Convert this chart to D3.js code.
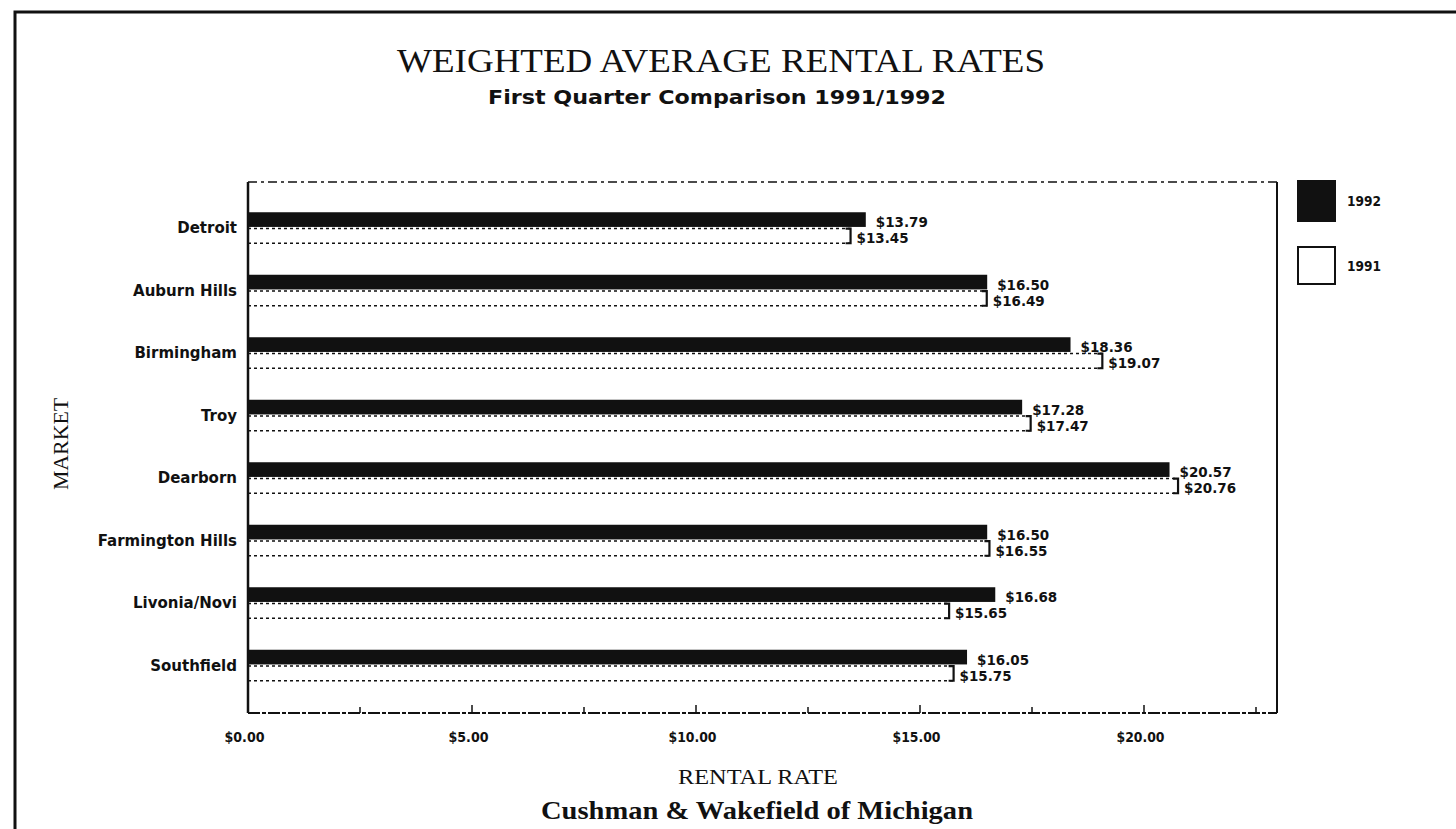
<!DOCTYPE html>
<html>
<head>
<meta charset="utf-8">
<script src="https://cdn.jsdelivr.net/npm/d3@7"></script>
<style>
  html, body { margin: 0; padding: 0; background: #fff; }
  svg { display: block; }
</style>
</head>
<body>
<svg id="chart" width="1456" height="829"></svg>
<script>
// Office markets and weighted average rental rates ($ per sq ft)
const markets = ["Detroit", "Auburn Hills", "Birmingham", "Troy", "Dearborn",
                 "Farmington Hills", "Livonia/Novi", "Southfield"];
const rates1992 = [13.79, 16.50, 18.36, 17.28, 20.57, 16.50, 16.68, 16.05];
const rates1991 = [13.45, 16.49, 19.07, 17.47, 20.76, 16.55, 15.65, 15.75];
const seriesNames = ["1992", "1991"];
const xTicks = [0, 5, 10, 15, 20];
const xMinorTicks = [2.5, 7.5, 12.5, 17.5, 22.5];

const svg = d3.select("#chart");
const ink = "#111";
const sansBold = "'DejaVu Sans', 'Liberation Sans', sans-serif";
const serif = "'Liberation Serif', 'DejaVu Serif', serif";

// page border
svg.append("path")
  .attr("d", "M15,829 L15,12 L1456,12")
  .attr("fill", "none").attr("stroke", ink).attr("stroke-width", 3);

// plotting frame
const frame = { left: 248, right: 1277, top: 182, bottom: 713 };

const x = d3.scaleLinear().domain([0, 23]).range([frame.left, frame.left + 23 * 44.8]);
const y = d3.scaleBand().domain(markets).range([197, 697]);
const ySub = d3.scaleBand().domain(seriesNames).range([-16, 15]).paddingInner(0.1);

// frame sides
svg.append("line")
  .attr("x1", frame.left).attr("x2", frame.right)
  .attr("y1", frame.top).attr("y2", frame.top)
  .attr("stroke", ink).attr("stroke-width", 1.5).attr("stroke-dasharray", "9,4,3,4");
svg.append("line")
  .attr("x1", frame.left).attr("x2", frame.right)
  .attr("y1", frame.bottom).attr("y2", frame.bottom)
  .attr("stroke", ink).attr("stroke-width", 1.8).attr("stroke-dasharray", "12,2,4,2");
svg.append("line")
  .attr("x1", frame.left).attr("x2", frame.left)
  .attr("y1", frame.top).attr("y2", frame.bottom)
  .attr("stroke", ink).attr("stroke-width", 2.5);
svg.append("line")
  .attr("x1", frame.right).attr("x2", frame.right)
  .attr("y1", frame.top).attr("y2", frame.bottom)
  .attr("stroke", ink).attr("stroke-width", 2);

// bottom axis: labelled major ticks plus inward minor ticks
const xAxis = d3.axisBottom(x)
  .tickValues(xTicks)
  .tickSize(0)
  .tickPadding(19)
  .tickFormat(d => "$" + d3.format(".2f")(d));
const gx = svg.append("g")
  .attr("transform", `translate(-4,${frame.bottom})`)
  .call(xAxis);
gx.select(".domain").remove();
gx.selectAll("text")
  .attr("font-family", sansBold)
  .attr("font-weight", "bold").attr("font-size", 14).attr("fill", ink)
  .attr("textLength", d => d >= 10 ? 48 : 40).attr("lengthAdjust", "spacingAndGlyphs");

svg.append("g").selectAll("line")
  .data(xTicks.concat(xMinorTicks).filter(d => d > 0))
  .join("line")
  .attr("x1", d => x(d)).attr("x2", d => x(d))
  .attr("y1", frame.bottom).attr("y2", d => frame.bottom - (Number.isInteger(d) ? 8 : 6))
  .attr("stroke", ink).attr("stroke-width", 1.5);

// category labels
const yAxis = d3.axisLeft(y).tickSize(0).tickPadding(11);
const gy = svg.append("g")
  .attr("transform", `translate(${frame.left},0)`)
  .call(yAxis);
gy.select(".domain").remove();
gy.selectAll("text")
  .attr("font-family", sansBold)
  .attr("font-weight", "bold").attr("font-size", 15).attr("fill", ink);

const valueFmt = d => "$" + d3.format(".2f")(d);
const rows = markets.map((m, i) => ({ market: m, v92: rates1992[i], v91: rates1991[i] }));

// 1992 bars (solid)
svg.append("g").selectAll("rect")
  .data(rows)
  .join("rect")
  .attr("x", x(0))
  .attr("y", d => y(d.market) + y.bandwidth() / 2 + ySub("1992"))
  .attr("width", d => x(d.v92) - x(0))
  .attr("height", ySub.bandwidth())
  .attr("fill", ink);

// 1991 bars (open, dotted edges, bracketed end)
const g91 = svg.append("g");
g91.selectAll("path.edge")
  .data(rows)
  .join("path")
  .attr("class", "edge")
  .attr("d", d => {
    const y0 = y(d.market) + y.bandwidth() / 2 + ySub("1991");
    const y1 = y0 + ySub.bandwidth();
    return `M${x(0)},${y0}H${x(d.v91)}M${x(0)},${y1}H${x(d.v91)}`;
  })
  .attr("fill", "none").attr("stroke", ink).attr("stroke-width", 1.5)
  .attr("stroke-dasharray", "3,3");
g91.selectAll("path.cap")
  .data(rows)
  .join("path")
  .attr("class", "cap")
  .attr("d", d => {
    const y0 = y(d.market) + y.bandwidth() / 2 + ySub("1991");
    const y1 = y0 + ySub.bandwidth();
    const xe = x(d.v91);
    return `M${xe - 5},${y0}H${xe}V${y1}H${xe - 5}`;
  })
  .attr("fill", "none").attr("stroke", ink).attr("stroke-width", 2.2);

// value labels
svg.append("g").selectAll("text")
  .data(rows)
  .join("text")
  .attr("x", d => x(d.v92) + 10)
  .attr("y", d => y(d.market) + y.bandwidth() / 2 - 6)
  .attr("dy", "0.35em")
  .attr("font-family", sansBold).attr("font-weight", "bold")
  .attr("font-size", 14).attr("fill", ink)
  .attr("textLength", 52).attr("lengthAdjust", "spacingAndGlyphs")
  .text(d => valueFmt(d.v92));
svg.append("g").selectAll("text")
  .data(rows)
  .join("text")
  .attr("x", d => x(d.v91) + 6)
  .attr("y", d => y(d.market) + y.bandwidth() / 2 + 10)
  .attr("dy", "0.35em")
  .attr("font-family", sansBold).attr("font-weight", "bold")
  .attr("font-size", 14).attr("fill", ink)
  .attr("textLength", 52).attr("lengthAdjust", "spacingAndGlyphs")
  .text(d => valueFmt(d.v91));

// legend
const legend = svg.append("g").attr("transform", "translate(1297,180)");
legend.append("rect").attr("x", 0).attr("y", 0).attr("width", 39).attr("height", 42).attr("fill", ink);
legend.append("rect").attr("x", 1).attr("y", 67).attr("width", 37).attr("height", 37)
  .attr("fill", "#fff").attr("stroke", ink).attr("stroke-width", 2);
legend.selectAll("text")
  .data(seriesNames)
  .join("text")
  .attr("x", 50)
  .attr("y", (d, i) => i === 0 ? 21 : 86)
  .attr("dy", "0.35em")
  .attr("font-family", sansBold).attr("font-weight", "bold")
  .attr("font-size", 14).attr("fill", ink)
  .attr("textLength", 34).attr("lengthAdjust", "spacingAndGlyphs")
  .text(d => d);

// titles
svg.append("text")
  .attr("x", 721).attr("y", 72)
  .attr("text-anchor", "middle")
  .attr("font-family", serif)
  .attr("font-size", 33).attr("fill", ink)
  .attr("textLength", 648).attr("lengthAdjust", "spacingAndGlyphs")
  .text("WEIGHTED AVERAGE RENTAL RATES");
svg.append("text")
  .attr("x", 717).attr("y", 104)
  .attr("text-anchor", "middle")
  .attr("font-family", sansBold).attr("font-weight", "bold")
  .attr("font-size", 19).attr("fill", ink)
  .attr("textLength", 458).attr("lengthAdjust", "spacingAndGlyphs")
  .text("First Quarter Comparison 1991/1992");

svg.append("text")
  .attr("transform", "translate(68,444) rotate(-90)")
  .attr("text-anchor", "middle")
  .attr("font-family", serif)
  .attr("font-size", 21).attr("fill", ink)
  .attr("textLength", 92).attr("lengthAdjust", "spacingAndGlyphs")
  .text("MARKET");

svg.append("text")
  .attr("x", 758).attr("y", 784)
  .attr("text-anchor", "middle")
  .attr("font-family", serif)
  .attr("font-size", 20).attr("fill", ink)
  .attr("textLength", 160).attr("lengthAdjust", "spacingAndGlyphs")
  .text("RENTAL RATE");

svg.append("text")
  .attr("x", 757).attr("y", 819)
  .attr("text-anchor", "middle")
  .attr("font-family", serif)
  .attr("font-weight", "bold")
  .attr("font-size", 26).attr("fill", ink)
  .attr("textLength", 432).attr("lengthAdjust", "spacingAndGlyphs")
  .text("Cushman & Wakefield of Michigan");
</script>
</body>
</html>
